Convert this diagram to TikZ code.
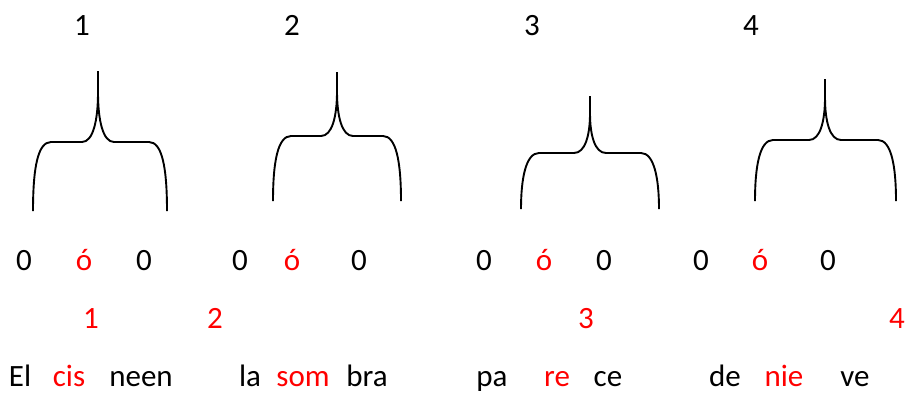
\documentclass[tikz,border=0pt]{standalone}
\usepackage{fontspec}
\setmainfont{Carlito}
\newcommand\stressbrace[6]{% #1 L, #2 C, #3 R, #4 bottom, #5 shoulder, #6 top
  \draw[bracestyle] (#2,#6) -- (#2,{#5-0.7*(#5-#6)}) .. controls (#2,{#5-0.3*(#5-#6)}) and ({#2-5},#5) .. ({#2-16},#5) -- ({#1+18},#5) .. controls ({#1+5},#5) and (#1,{#5+25}) .. (#1,#4);
  \draw[bracestyle] (#2,#6) -- (#2,{#5-0.7*(#5-#6)}) .. controls (#2,{#5-0.3*(#5-#6)}) and ({#2+5},#5) .. ({#2+16},#5) -- ({#3-18},#5) .. controls ({#3-5},#5) and (#3,{#5+25}) .. (#3,#4);
}
\begin{document}
\begin{tikzpicture}[x=1pt,y=-1pt,
  bracestyle/.style={line width=1.9pt,line join=round},
  lbl/.style={anchor=base,inner sep=0pt,font=\fontsize{31}{36}\selectfont},
  red lbl/.style={lbl,text=red}]
\useasboundingbox[fill=white] (0,0) rectangle (907,392);
% top numbers
\node[lbl] (t1) at (82,35) {1};
\node[lbl] (t2) at (292,35) {2};
\node[lbl] (t3) at (532,35) {3};
\node[lbl] (t4) at (751,35) {4};
% braces
\stressbrace{33}{98}{167}{211}{142}{71}
\stressbrace{273}{337}{401}{201}{136}{72}
\stressbrace{521}{590}{659}{209}{153}{96}
\stressbrace{755}{825}{896}{201}{140}{79}
% zero row
\node[lbl] (za1) at (24,270) {0};
\node[red lbl] (zb1) at (84,270) {ó};
\node[lbl] (zc1) at (144,270) {0};
\node[lbl] (za2) at (240,270) {0};
\node[red lbl] (zb2) at (292,270) {ó};
\node[lbl] (zc2) at (359,270) {0};
\node[lbl] (za3) at (484,270) {0};
\node[red lbl] (zb3) at (544,270) {ó};
\node[lbl] (zc3) at (604,270) {0};
\node[lbl] (za4) at (701,270) {0};
\node[red lbl] (zb4) at (760,270) {ó};
\node[lbl] (zc4) at (828,270) {0};
% red numbers
\node[red lbl] (r1) at (91,328) {1};
\node[red lbl] (r2) at (215,328) {2};
\node[red lbl] (r3) at (586,328) {3};
\node[red lbl] (r4) at (897,328) {4};
% words
\node[lbl] (w1) at (20,386) {El};
\node[red lbl] (w2) at (69,386) {cis};
\node[lbl] (w3) at (141,386) {neen};
\node[lbl] (w4) at (250,386) {la};
\node[red lbl] (w5) at (303,386) {som};
\node[lbl] (w6) at (367,386) {bra};
\node[lbl] (w7) at (492,386) {pa};
\node[red lbl] (w8) at (557,386) {re};
\node[lbl] (w9) at (608,386) {ce};
\node[lbl] (w10) at (725,386) {de};
\node[red lbl] (w11) at (784,386) {nie};
\node[lbl] (w12) at (855,386) {ve};
\end{tikzpicture}
\end{document}
